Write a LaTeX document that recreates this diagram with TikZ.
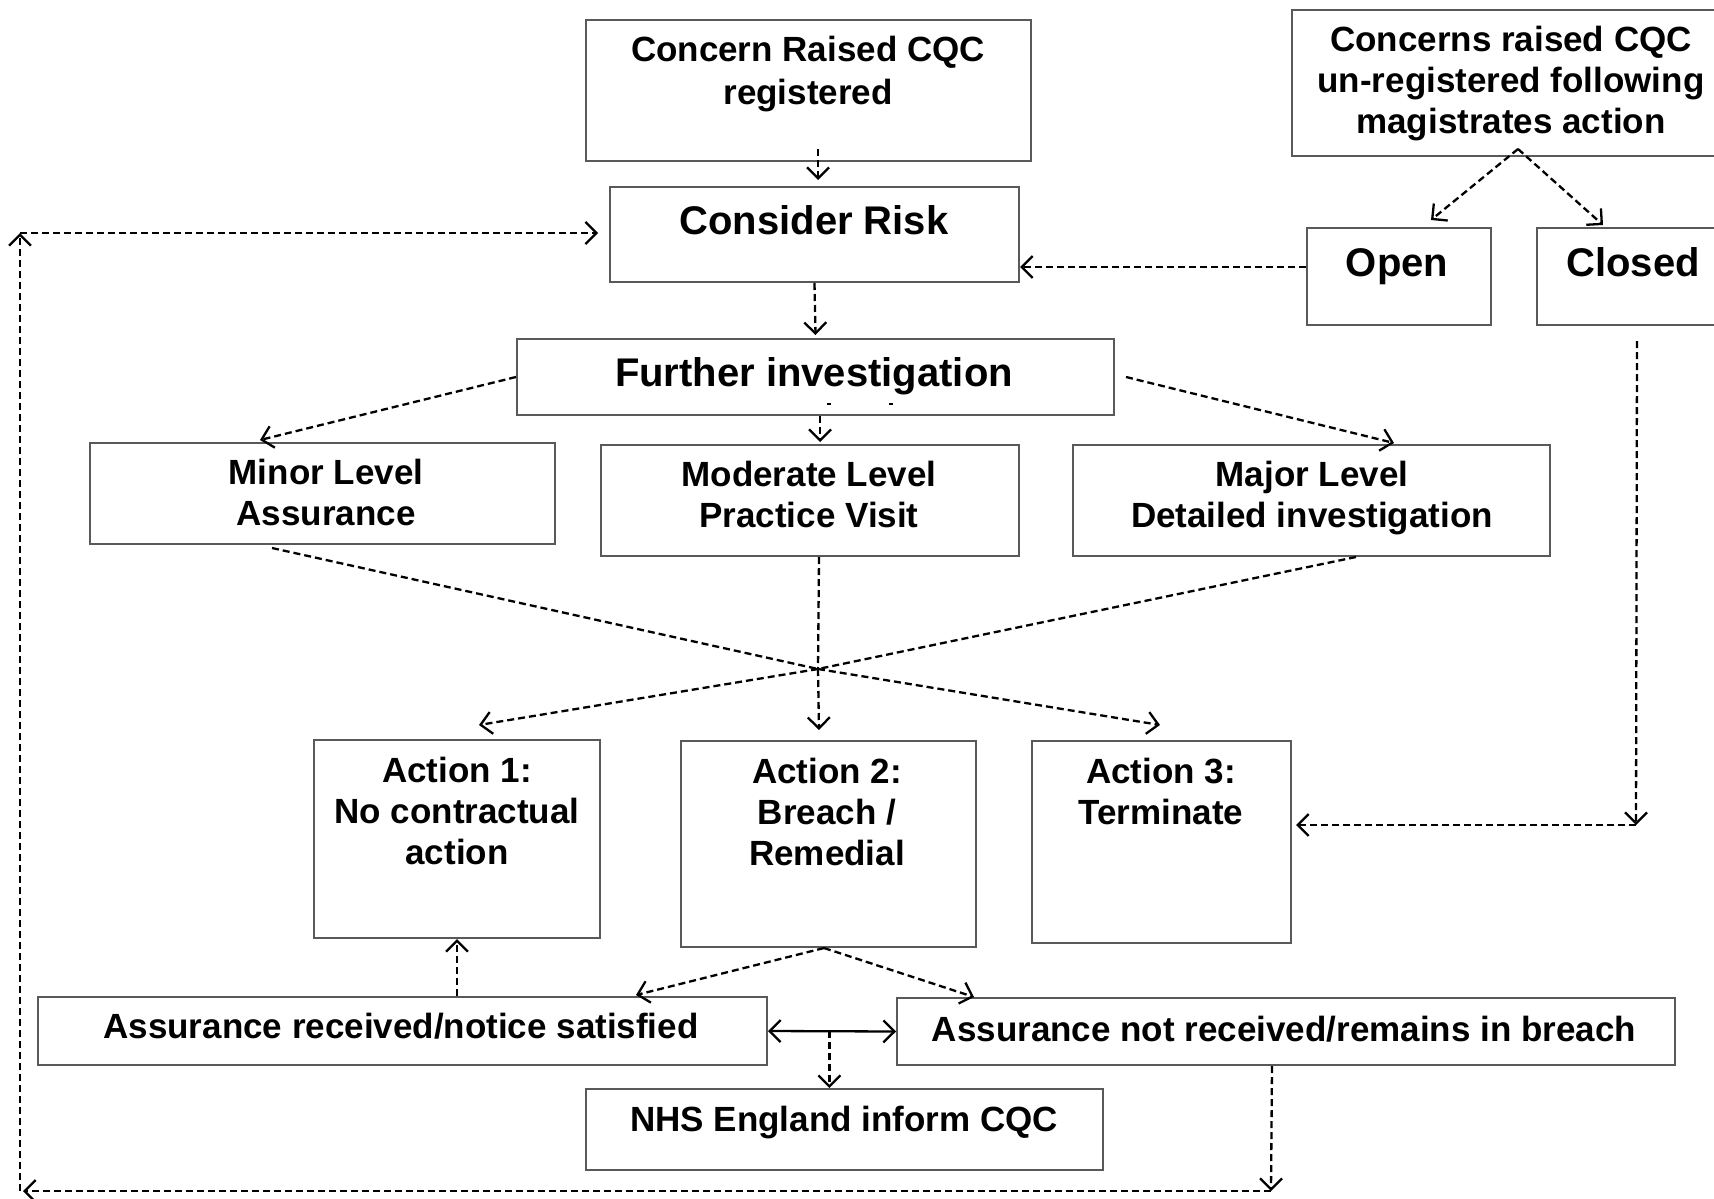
\documentclass[tikz,border=0pt]{standalone}
\usepackage{fontspec}
\setmainfont{Liberation Sans}
\usetikzlibrary{arrows.meta,calc}
\newcommand{\mlines}[1]{\begin{tabular}[t]{@{}c@{}}#1\end{tabular}}
\begin{document}
\begin{tikzpicture}[x=1pt,y=-1pt,
  box/.style={draw=black!65, line width=2pt, inner sep=0pt, anchor=north west},
  lbl/.style={anchor=base, inner sep=0pt, font=\bfseries\fontsize{35pt}{41pt}\selectfont},
  big/.style={anchor=base, inner sep=0pt, font=\bfseries\fontsize{40pt}{46pt}\selectfont},
  conn/.style={draw=black, line width=2.3pt, dash pattern=on 7pt off 4pt},
  arr/.style={conn, -{Straight Barb[length=11pt,width=22pt]}},
  dbl/.style={draw=black, line width=2.3pt, {Straight Barb[length=11pt,width=22pt]}-{Straight Barb[length=11pt,width=22pt]}}]
\useasboundingbox (0,0) rectangle (1714,1199);
\fill[white] (0,0) rectangle (1714,1199);

% boxes
\node[box, minimum width=445pt, minimum height=141pt] (c1) at (585,19) {};
\node[box, minimum width=409pt, minimum height=95pt] (risk) at (609,186) {};
\node[box, minimum width=444pt, minimum height=146pt] (unreg) at (1291,9) {};
\node[box, minimum width=184pt, minimum height=97pt] (open) at (1306,227) {};
\node[box, minimum width=199pt, minimum height=97pt] (closed) at (1536,227) {};
\node[box, minimum width=597pt, minimum height=76pt] (further) at (516,338) {};
\node[box, minimum width=465pt, minimum height=101pt] (minor) at (89,442) {};
\node[box, minimum width=418pt, minimum height=111pt] (moderate) at (600,444) {};
\node[box, minimum width=477pt, minimum height=111pt] (major) at (1072,444) {};
\node[box, minimum width=286pt, minimum height=198pt] (act1) at (313,739) {};
\node[box, minimum width=295pt, minimum height=206pt] (act2) at (680,740) {};
\node[box, minimum width=259pt, minimum height=202pt] (act3) at (1031,740) {};
\node[box, minimum width=729pt, minimum height=68pt] (ar) at (37,996) {};
\node[box, minimum width=778pt, minimum height=67pt] (anr) at (896,997) {};
\node[box, minimum width=517pt, minimum height=81pt] (nhs) at (585,1088) {};

% texts
\node[lbl, font=\bfseries\fontsize{35pt}{43pt}\selectfont] (c1t) at (808,62) {\mlines{Concern Raised CQC\\registered}};
\node[big] (riskt) at (814,234) {Consider Risk};
\node[lbl] (unregt) at (1511,52) {\mlines{Concerns raised CQC\\un-registered following\\magistrates action}};
\node[big] (opent) at (1397,276) {Open};
\node[big] (closedt) at (1633,276) {Closed};
\node[big] (furthert) at (814,386) {Further investigation};
\node[lbl] (minort) at (326,484) {\mlines{Minor Level\\Assurance}};
\node[lbl] (moderatet) at (809,486) {\mlines{Moderate Level\\Practice Visit}};
\node[lbl] (majort) at (1312,486) {\mlines{Major Level\\Detailed investigation}};
\node[lbl] (act1t) at (457,782) {\mlines{Action 1:\\No contractual\\action}};
\node[lbl] (act2t) at (827,783) {\mlines{Action 2:\\Breach /\\Remedial}};
\node[lbl] (act3t) at (1161,783) {\mlines{Action 3:\\Terminate}};
\node[lbl] (art) at (401,1038) {Assurance received/notice satisfied};
\node[lbl] (anrt) at (1284,1041) {Assurance not received/remains in breach};
\node[lbl] (nhst) at (844,1131) {NHS England inform CQC};

% small marks in Further investigation box
\draw[line width=1.5pt] ([shift={(11.5pt,12pt)}]further.south) -- ++(4,0);
\draw[line width=1.5pt] ([shift={(73.5pt,12pt)}]further.south) -- ++(4,0);

% connectors
\draw[arr] ([shift={(9.5pt,13pt)}]c1.south) -- ([shift={(3.5pt,6pt)}]risk.north);
\draw[arr] (risk.south) -- ([yshift=3pt]further.north);
\draw[arr] ([yshift=9.5pt]open.west) coordinate (o1) -- (risk.east |- o1);
\coordinate (apex) at ([shift={(4pt,8pt)}]unreg.south);
\draw[arr] (apex) -- ([shift={(32pt,7pt)}]open.north);
\draw[arr] (apex) -- ([shift={(-33.5pt,2pt)}]closed.north);
\coordinate (kc) at (1636,825);
\draw[arr] ([shift={(0.5pt,-15pt)}]closed.south) -- (kc);
\draw[arr] (kc) -- ([xshift=4pt]act3.east |- kc);

\draw[arr] (further.west) -- ([shift={(-62.5pt,2pt)}]minor.north);
\draw[arr] ([xshift=4.5pt]further.south) -- ([shift={(10pt,2pt)}]moderate.north);
\draw[arr] ([xshift=11pt]further.east) -- ([shift={(82.5pt,1pt)}]major.north);

\coordinate (J) at (818,669);
\draw[conn] ([shift={(-50.5pt,-3pt)}]minor.south) -- (J);
\draw[conn] ([xshift=44.5pt]major.south) -- (J);
\draw[conn] ([xshift=9pt]moderate.south) -- (J);
\draw[arr] (J) -- ([shift={(22pt,14pt)}]act1.north);
\draw[arr] (J) -- ([shift={(-9.5pt,10pt)}]act2.north);
\draw[arr] (J) -- ([shift={(-1.5pt,15pt)}]act3.north);

\coordinate (a2) at ([xshift=-4.5pt]act2.south);
\draw[arr] (a2) -- ([shift={(233.5pt,1pt)}]ar.north);
\draw[arr] (a2) -- ([xshift=-312pt]anr.north);
\draw[dbl] (ar.east) -- (anr.west);
\coordinate (mid) at ($(ar.east)!0.48!(anr.west)$);
\draw[arr] (mid) -- (mid |- nhs.north);
\draw[arr] (act1.south |- ar.north) -- (act1.south);

\coordinate (br) at (1271,1191);
\coordinate (bl) at (20,1191);
\coordinate (tl) at (20,233);
\draw[arr] ([xshift=-14pt]anr.south) -- (br);
\draw[arr] (br) -- ([xshift=3pt]bl);
\draw[arr] (bl) -- (tl);
\draw[arr] (tl) -- ([xshift=-11pt]risk.west |- tl);
\end{tikzpicture}
\end{document}
